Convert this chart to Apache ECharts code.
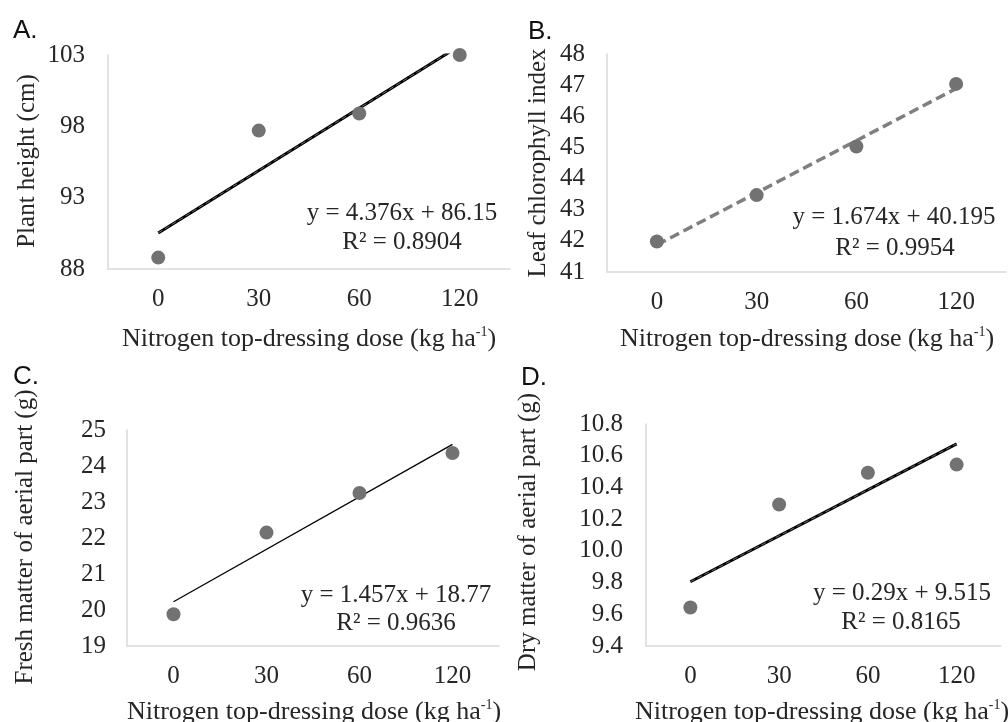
<!DOCTYPE html>
<html>
<head>
<meta charset="utf-8">
<script src="https://cdn.jsdelivr.net/npm/echarts@6/dist/echarts.min.js"></script>
<style>
  html, body { margin: 0; padding: 0; background: #fff; }
  #chart { width: 1008px; height: 722px; }
</style>
</head>
<body>
<div id="chart"></div>
<script>
// nitrogen doses (category axis, equal spacing like the excel chart)
var doses = ["0", "30", "60", "120"];

var plantHeight = [88.8, 97.7, 98.9, 103.0];
var chlorophyll = [41.98, 43.47, 45.03, 47.04];
var freshMatter = [19.88, 22.15, 23.25, 24.36];
var dryMatter = [9.643, 10.292, 10.493, 10.544];

// trendline end points (first / last dose)
var trendA = [90.53, null, null, 103.65];
var trendB = [41.87, null, null, 46.89];
var trendC = [20.23, null, null, 24.60];
var trendD = [9.805, null, null, 10.675];

var eqA = ["y = 4.376x + 86.15", "R² = 0.8904"];
var eqB = ["y = 1.674x + 40.195", "R² = 0.9954"];
var eqC = ["y = 1.457x + 18.77", "R² = 0.9636"];
var eqD = ["y = 0.29x + 9.515", "R² = 0.8165"];

var serif = "Liberation Serif";
var txt = "#262626";
var dot = "#727272";

var chart = echarts.init(document.getElementById("chart"));

function xAxis(gi) {
    return {
        type: "category",
        gridIndex: gi,
        data: doses,
        boundaryGap: true,
        axisLine: { lineStyle: { color: "#d9d9d9", width: 1.5 } },
        axisTick: { show: false },
        axisLabel: { fontFamily: serif, fontSize: 25, color: txt, margin: 18 },
        splitLine: { show: false }
    };
}

function yAxis(gi, min, max, step, dec, margin) {
    return {
        type: "value",
        gridIndex: gi,
        min: min,
        max: max,
        interval: step,
        axisLine: { show: true, lineStyle: { color: "#d9d9d9", width: 1.5 } },
        axisTick: { show: false },
        splitLine: { show: false },
        axisLabel: {
            fontFamily: serif, fontSize: 25, color: txt, margin: margin,
            formatter: function (v) { return v.toFixed(dec); }
        }
    };
}

function points(i, d) {
    return {
        type: "scatter", xAxisIndex: i, yAxisIndex: i, data: d,
        symbolSize: 14, itemStyle: { color: dot, opacity: 1 }, z: 3
    };
}

function trend(i, d, color, width, type) {
    return {
        type: "line", xAxisIndex: i, yAxisIndex: i, data: d,
        connectNulls: true, symbol: "none", silent: true,
        lineStyle: { color: color, width: width, type: type }, z: 2
    };
}

function label(x, y, s, rot) {
    return {
        type: "text", x: x, y: y, rotation: rot || 0,
        style: {
            text: s, fontFamily: serif, fontSize: 25, fill: txt,
            align: "center", verticalAlign: "middle"
        }
    };
}

function xTitle(x, y) {
    return {
        type: "text", x: x, y: y,
        style: {
            text: "Nitrogen top-dressing dose (kg ha{s|-1})",
            fontFamily: serif, fontSize: 26, fill: txt,
            align: "center", verticalAlign: "middle",
            rich: { s: { fontFamily: serif, fontSize: 14, fill: txt, verticalAlign: "top", lineHeight: 28 } }
        }
    };
}

function panelTag(x, y, s) {
    return {
        type: "text", x: x, y: y,
        style: { text: s, fontFamily: "Liberation Sans", fontSize: 26, fill: "#111", align: "left", verticalAlign: "middle" }
    };
}

var option = {
    animation: false,
    backgroundColor: "#fff",
    grid: [
        { left: 108, top: 55, width: 402, height: 214 },
        { left: 607, top: 54, width: 399, height: 218 },
        { left: 127, top: 430, width: 372, height: 216 },
        { left: 646, top: 424, width: 355, height: 222 }
    ],
    xAxis: [xAxis(0), xAxis(1), xAxis(2), xAxis(3)],
    yAxis: [
        yAxis(0, 88, 103, 5, 0, 23),
        yAxis(1, 41, 48, 1, 0, 22),
        yAxis(2, 19, 25, 1, 0, 21),
        yAxis(3, 9.4, 10.8, 0.2, 1, 23)
    ],
    series: [
        trend(0, trendA, "#000", 3, "solid"),
        trend(0, trendA, "#6a6a6a", 1, [5, 3]),
        points(0, plantHeight),
        trend(1, trendB, "#7f7f7f", 3.5, [10, 5]),
        points(1, chlorophyll),
        trend(2, trendC, "#000", 1.3, "solid"),
        points(2, freshMatter),
        trend(3, trendD, "#000", 3, "solid"),
        trend(3, trendD, "#6a6a6a", 1, [5, 3]),
        points(3, dryMatter)
    ],
    graphic: [
        panelTag(13, 31, "A."),
        panelTag(528, 32, "B."),
        panelTag(13, 377, "C."),
        panelTag(521, 378, "D."),

        label(27, 161, "Plant height (cm)", Math.PI / 2),
        label(538, 163, "Leaf chlorophyll index", Math.PI / 2),
        label(25, 537, "Fresh matter of aerial part (g)", Math.PI / 2),
        label(528, 532, "Dry matter of aerial part (g)", Math.PI / 2),

        xTitle(309, 339),
        xTitle(807, 339),
        xTitle(314, 712),
        xTitle(822, 712),

        label(402, 213, eqA[0]), label(402, 242, eqA[1]),
        label(894, 217, eqB[0]), label(895, 248, eqB[1]),
        label(396, 595, eqC[0]), label(396, 623, eqC[1]),
        label(902, 593, eqD[0]), label(901, 622, eqD[1])
    ]
};

chart.setOption(option);
</script>
</body>
</html>
